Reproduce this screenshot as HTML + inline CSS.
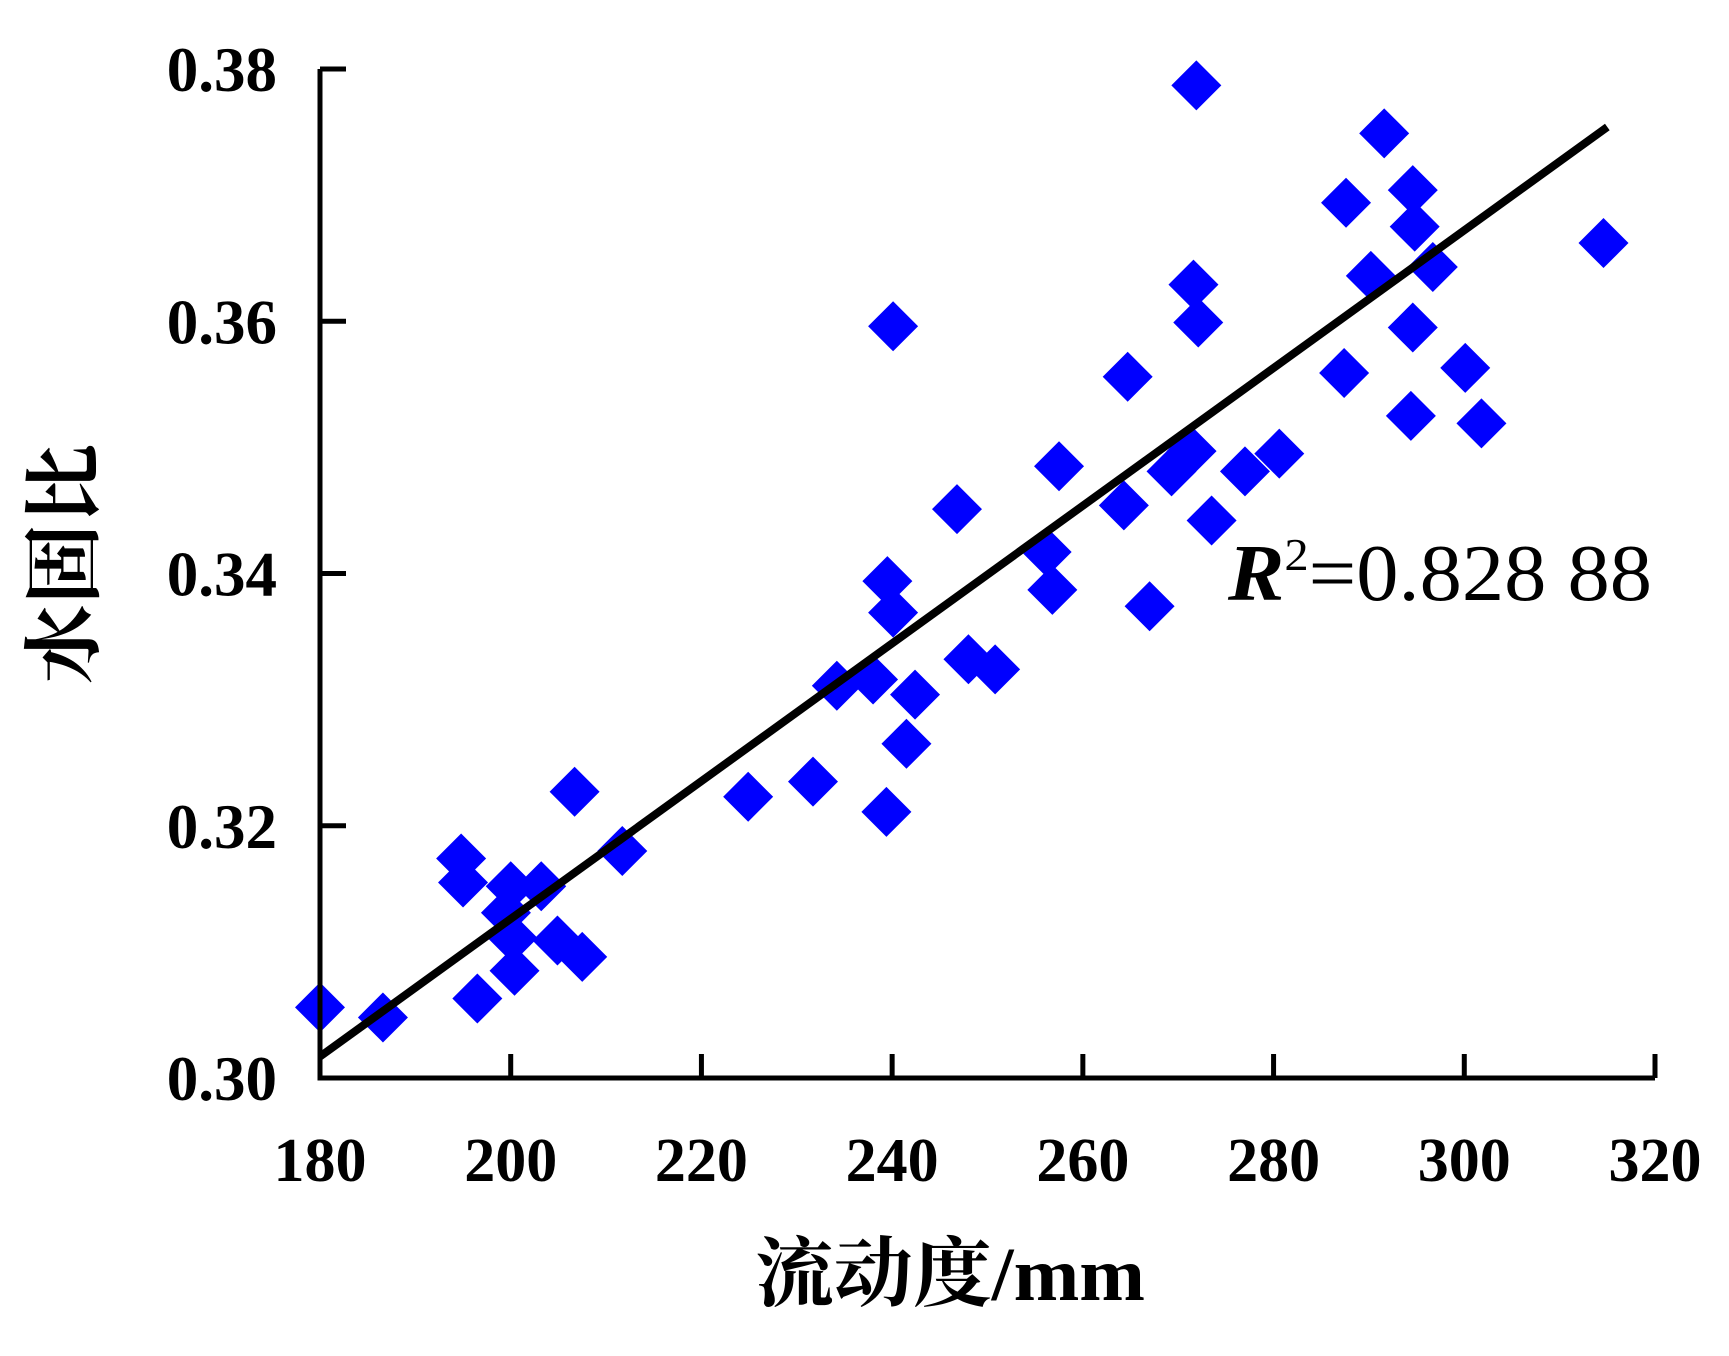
<!DOCTYPE html>
<html><head><meta charset="utf-8"><style>html,body{margin:0;padding:0;background:#fff}svg{display:block}</style></head>
<body>
<svg id="chart" xmlns="http://www.w3.org/2000/svg" width="1729" height="1356" viewBox="0 0 1729 1356">
<g id="marks"></g>
<g id="axes"></g>
<text x="1228" y="600" font-family="Liberation Serif, serif" font-size="80" textLength="424" lengthAdjust="spacingAndGlyphs"><tspan font-style="italic" font-weight="bold">R</tspan><tspan font-size="46" dy="-30">2</tspan><tspan dy="30">=0.828  88</tspan></text>
<text x="950" y="1300" text-anchor="middle" font-family="Liberation Serif, Noto Serif CJK SC, serif" font-size="76" font-weight="bold" textLength="390" lengthAdjust="spacingAndGlyphs">流动度/mm</text>
<text transform="translate(92,564) rotate(-90)" text-anchor="middle" font-family="Liberation Serif, Noto Serif CJK SC, serif" font-size="80" font-weight="bold">水固比</text>
</svg>
<script>
const flowValues = [180,186.6,194.8,195,196.5,200,199.5,200.2,200.4,203.2,204.9,207.5,206.7,211.7,224.9,231.7,234.2,238,239.4,240.1,239.5,240.1,241.5,242.4,246.8,248,250.8,256.2,256.8,257.5,264.3,264.7,267,269.3,271.4,271.9,271.6,272.1,273.5,277,280.6,287.6,287.4,290.2,291.6,294.6,294.8,294.6,294.4,296.7,300.1,301.8,314.6];
const ratioValues = [0.3056,0.3048,0.3174,0.3155,0.3063,0.3152,0.3131,0.3111,0.3085,0.3152,0.3109,0.3096,0.3227,0.3180,0.3223,0.3235,0.3311,0.3316,0.3211,0.3596,0.3394,0.3369,0.3265,0.3304,0.3451,0.3332,0.3324,0.3417,0.3387,0.3485,0.3454,0.3556,0.3374,0.3481,0.3497,0.3787,0.3629,0.3599,0.3442,0.3481,0.3495,0.3694,0.3559,0.3636,0.3749,0.3704,0.3675,0.3595,0.3525,0.3643,0.3563,0.3519,0.3662];
const xTicks = [180,200,220,240,260,280,300,320];
const yTicks = [0.30,0.32,0.34,0.36,0.38];
const yTickLabels = ["0.30","0.32","0.34","0.36","0.38"];
const fitRange = [180,315];
const fitValues = [0.3017,0.3754];

const NS="http://www.w3.org/2000/svg";
const X0=320,X1=1655,Y0=1078,Y1=69;
const xs=v=>X0+(v-180)/(320-180)*(X1-X0);
const ys=v=>Y0-(v-0.30)/(0.38-0.30)*(Y0-Y1);
function mk(tag,attrs,parent){const e=document.createElementNS(NS,tag);for(const k in attrs)e.setAttribute(k,attrs[k]);parent.appendChild(e);return e;}
const marks=document.getElementById('marks'),axes=document.getElementById('axes');
const S=25;
flowValues.forEach((fv,i)=>{
  const cx=xs(fv),cy=ys(ratioValues[i]);
  const p=mk('polygon',{points:`${cx},${cy-S} ${cx+S},${cy} ${cx},${cy+S} ${cx-S},${cy}`,fill:'#0000ff'},marks);
  
  
});
const fl=mk('line',{x1:xs(fitRange[0]),y1:ys(fitValues[0]),x2:xs(fitRange[1]),y2:ys(fitValues[1]),stroke:'#000','stroke-width':8},marks);


const xa=mk('path',{d:`M${X0},${Y1} V${Y0} H${X1}`,fill:'none',stroke:'#000','stroke-width':5},axes);


xTicks.forEach(t=>{
  const x=xs(t);
  const l=mk('line',{x1:x,y1:Y0,x2:x,y2:Y0-24,stroke:'#000','stroke-width':5},axes);
  
  
  const tx=mk('text',{x:x,y:1181,'text-anchor':'middle','font-family':'Liberation Serif, serif','font-size':62,'font-weight':'bold'},axes);
  tx.textContent=String(t);
  
  
});
yTicks.forEach((t,i)=>{
  const y=ys(t);
  const l=mk('line',{x1:X0,y1:y,x2:X0+26,y2:y,stroke:'#000','stroke-width':5},axes);
  
  
  const tx=mk('text',{x:277,y:y+22,'text-anchor':'end','font-family':'Liberation Serif, serif','font-size':63,'font-weight':'bold'},axes);
  tx.textContent=yTickLabels[i];
  
  
});
</script>
</body></html>
